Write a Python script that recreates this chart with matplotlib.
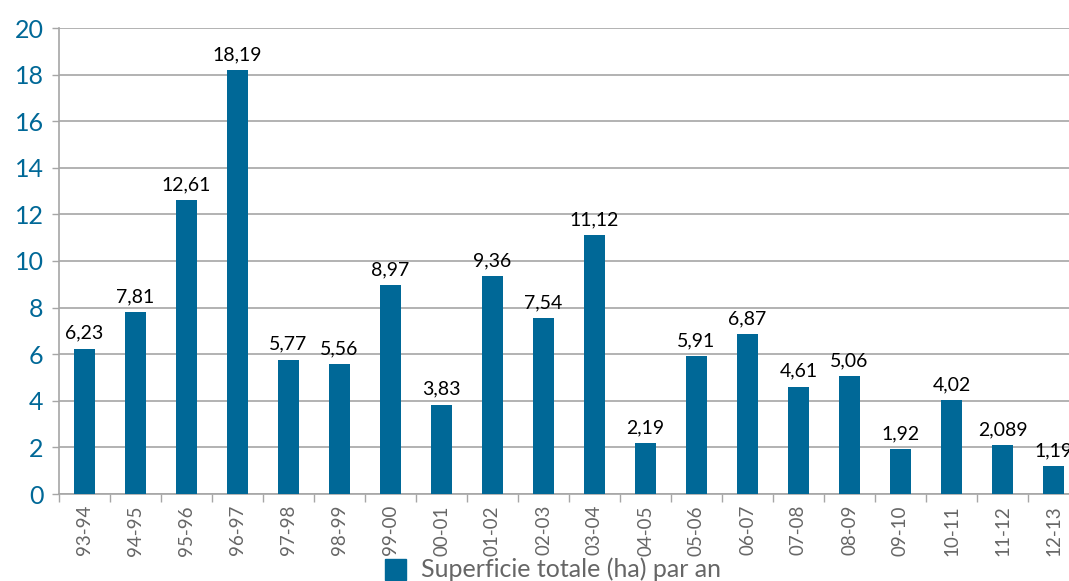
import matplotlib.pyplot as plt
import numpy as np

saisons = ['93-94', '94-95', '95-96', '96-97', '97-98', '98-99', '99-00', '00-01',
           '01-02', '02-03', '03-04', '04-05', '05-06', '06-07', '07-08', '08-09',
           '09-10', '10-11', '11-12', '12-13']
superficie = [6.23, 7.81, 12.61, 18.19, 5.77, 5.56, 8.97, 3.83, 9.36, 7.54, 11.12,
              2.19, 5.91, 6.87, 4.61, 5.06, 1.92, 4.02, 2.089, 1.19]
etiquettes = ['6,23', '7,81', '12,61', '18,19', '5,77', '5,56', '8,97', '3,83', '9,36',
              '7,54', '11,12', '2,19', '5,91', '6,87', '4,61', '5,06', '1,92', '4,02',
              '2,089', '1,19']

bleu = '#006897'
gris = '#a6a6a6'
plt.rcParams['font.family'] = ['Lato', 'DejaVu Sans']

fig = plt.figure(figsize=(10.69, 5.81), dpi=100)
# zone de tracé qui déborde à droite
ax = fig.add_axes([59 / 1069, 87 / 581, 1020 / 1069, 466 / 581])

x = np.arange(len(saisons))
ax.bar(x, superficie, width=0.41, color=bleu, zorder=3)
for xi, v, t in zip(x, superficie, etiquettes):
    ax.text(xi, v + 0.3, t, ha='center', va='bottom', fontsize=14, color='black', zorder=4)

ax.set_xlim(-0.5, len(saisons) - 0.5)
ax.set_ylim(0, 20)
ax.set_yticks(range(0, 21, 2))
ax.yaxis.grid(True, color=gris, linewidth=1.2, zorder=0)
ax.tick_params(axis='y', colors=gris, labelcolor=bleu, labelsize=18, length=5, width=1, pad=6)
ax.set_xticks(x)
ax.set_xticklabels(saisons, rotation=90, fontsize=13.5, color='#666666')
ax.set_xticks(np.arange(-0.5, len(saisons), 1), minor=True)
ax.tick_params(axis='x', which='major', length=0, pad=8)
ax.tick_params(axis='x', which='minor', length=6, color=gris, width=1)
for s in ['top', 'right']:
    ax.spines[s].set_visible(False)
for s in ['left', 'bottom']:
    ax.spines[s].set_color(gris)
    ax.spines[s].set_linewidth(1.2)

# légende
fig.patches.append(plt.Rectangle((385 / 1069, 1 / 581), 21 / 1069, 21 / 581,
                                 transform=fig.transFigure, color=bleu))
fig.text(421 / 1069, 1 - 569 / 581, 'Superficie totale (ha) par an', fontsize=18,
         color='#666666', va='center', ha='left')

fig.savefig('out.png', dpi=100)
